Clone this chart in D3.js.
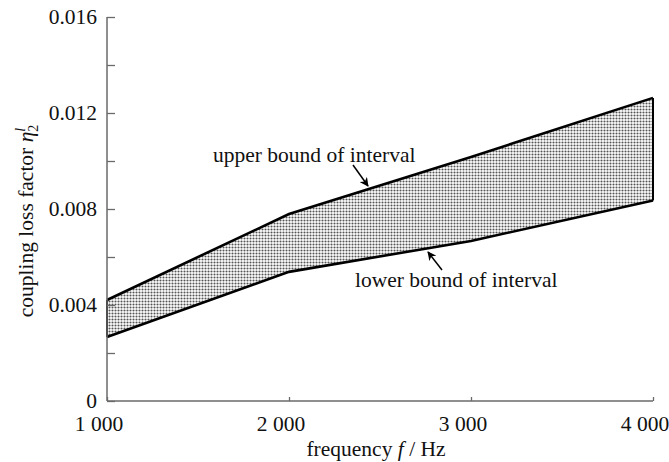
<!DOCTYPE html>
<html><head><meta charset="utf-8">
<script src="https://cdn.jsdelivr.net/npm/d3@7"></script>
<style>
html,body{margin:0;padding:0;background:#fff;}
svg text{font-family:"Liberation Serif","Times New Roman",serif;fill:#111;}
</style></head>
<body><svg id="c" width="669" height="462"></svg>
<script>
const freqs = [1000, 2000, 3000, 4000];
const upperBound = [0.00421, 0.00779, 0.01017, 0.01263];
const lowerBound = [0.00267, 0.00538, 0.00667, 0.00835];
const xTicks = [1000, 2000, 3000, 4000];
const xTickLabels = ["1 000", "2 000", "3 000", "4 000"];
const yTicks = [0, 0.002, 0.004, 0.006, 0.008, 0.010, 0.012, 0.014, 0.016];
const yLabelTicks = [0, 0.004, 0.008, 0.012, 0.016];
const yLabelText = ["0", "0.004", "0.008", "0.012", "0.016"];

const svg = d3.select("#c");
const x = d3.scaleLinear().domain([1000, 4000]).range([107, 653]);
const y = d3.scaleLinear().domain([0, 0.016]).range([401, 17]);
const FS = 21.5;

const defs = svg.append("defs");
const pat = defs.append("pattern").attr("id","dots").attr("patternUnits","userSpaceOnUse")
  .attr("width",3).attr("height",3);
pat.append("rect").attr("width",3).attr("height",3).attr("fill","#fff");
pat.append("circle").attr("cx",1.5).attr("cy",1.5).attr("r",1.05).attr("fill","#555");
defs.append("marker").attr("id","arr").attr("viewBox","0 0 10 10").attr("refX",9).attr("refY",5)
  .attr("markerWidth",9).attr("markerHeight",9).attr("markerUnits","userSpaceOnUse").attr("orient","auto")
  .append("path").attr("d","M0,0 L10,5 L0,10 L3,5 Z").attr("fill","#000");

const data = freqs.map((f,i)=>({f, u: upperBound[i], l: lowerBound[i]}));

// band
svg.append("path").datum(data)
  .attr("d", d3.area().x(d=>x(d.f)).y0(d=>y(d.l)).y1(d=>y(d.u)))
  .attr("fill","url(#dots)").attr("stroke","none");
// vertical edges
[data[0], data[data.length-1]].forEach(d=>{
  svg.append("line").attr("x1",x(d.f)).attr("x2",x(d.f)).attr("y1",y(d.l)).attr("y2",y(d.u))
    .attr("stroke","#000").attr("stroke-width",2);
});
svg.append("path").datum(data).attr("d", d3.line().x(d=>x(d.f)).y(d=>y(d.u))).attr("fill","none").attr("stroke","#000").attr("stroke-width",2.6);
svg.append("path").datum(data).attr("d", d3.line().x(d=>x(d.f)).y(d=>y(d.l))).attr("fill","none").attr("stroke","#000").attr("stroke-width",2.6);

// axes
const axCol = "#6a6a6a";
const xAxis = d3.axisBottom(x).tickValues(xTicks).tickSize(-4).tickFormat("");
const gx = svg.append("g").attr("transform","translate(0,401)").call(xAxis);
const yAxis = d3.axisLeft(y).tickValues(yTicks).tickSize(-8).tickFormat("");
const gy = svg.append("g").attr("transform","translate(107,0)").call(yAxis);
[gx, gy].forEach(g=>{
  g.select(".domain").attr("stroke",axCol).attr("stroke-width",1.5);
  g.selectAll(".tick line").attr("stroke",axCol).attr("stroke-width",1.3);
});
gx.select(".domain").attr("d","M107,0H653");
gy.select(".domain").attr("d","M0,401V17");

// tick labels
svg.append("g").selectAll("text").data(xTicks).join("text")
  .attr("x",(d)=>x(d)-8).attr("y",431).attr("text-anchor","middle").attr("font-size",FS)
  .text((d,i)=>xTickLabels[i]);
svg.append("g").selectAll("text").data(yLabelTicks).join("text")
  .attr("x",97).attr("y",d=>y(d)+7).attr("text-anchor","end").attr("font-size",FS)
  .text((d,i)=>yLabelText[i]);

// axis titles
const xt = svg.append("text").attr("x",376).attr("y",456).attr("text-anchor","middle").attr("font-size",FS);
xt.append("tspan").text("frequency ");
xt.append("tspan").attr("font-style","italic").text("f");
xt.append("tspan").text(" / Hz");

const yt = svg.append("text").attr("transform","translate(33,221) rotate(-90)").attr("text-anchor","middle").attr("font-size",FS);
yt.append("tspan").text("coupling loss factor ");
yt.append("tspan").attr("font-style","italic").text("η");
yt.append("tspan").attr("font-size",14).attr("dy",5).text("2");
yt.append("tspan").attr("font-size",14).attr("font-style","italic").attr("dy",-13).attr("dx",-7).text("l");

// annotations
svg.append("text").attr("x",213).attr("y",162).attr("font-size",FS).text("upper bound of interval");
svg.append("text").attr("x",355).attr("y",287).attr("font-size",FS).text("lower bound of interval");
svg.append("line").attr("x1",353).attr("y1",165).attr("x2",368).attr("y2",186)
  .attr("stroke","#000").attr("stroke-width",1.5).attr("marker-end","url(#arr)");
svg.append("line").attr("x1",442).attr("y1",270).attr("x2",428).attr("y2",252)
  .attr("stroke","#000").attr("stroke-width",1.5).attr("marker-end","url(#arr)");
</script></body></html>
